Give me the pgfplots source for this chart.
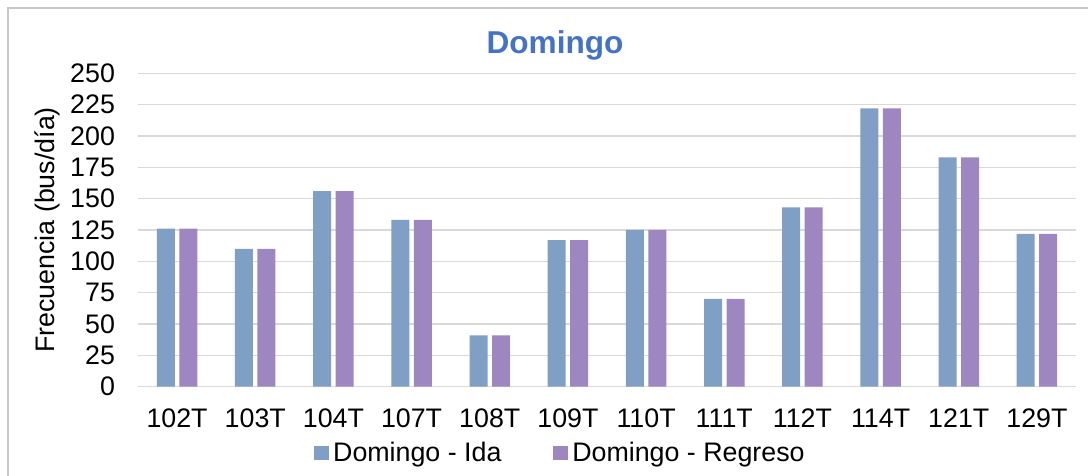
\documentclass[border=0pt]{standalone}
\usepackage{pgfplots}
\pgfplotsset{compat=1.18}
\usepackage{fontspec}
\setmainfont{Liberation Sans}
\definecolor{ida}{HTML}{7F9FC4}
\definecolor{reg}{HTML}{9E86C1}
\definecolor{titleblue}{HTML}{4472C4}
\definecolor{gridc}{HTML}{D9D9D9}
\begin{document}
\begin{tikzpicture}[x=1pt,y=1pt]
\useasboundingbox (0,0) rectangle (544,238);
\draw[gridc!80!gray, line width=0.8pt] (4,-5) -- (4,234) -- (550,234);
\node[font=\fontsize{15.8}{18}\selectfont\bfseries, text=titleblue] at (277.5,215.5) {Domingo};
\begin{axis}[
  at={(69pt,44.65pt)}, anchor=south west,
  scale only axis, width=469pt, height=156.7pt,
  ymin=0, ymax=250, xmin=-0.5, xmax=11.5,
  ytick={0,25,...,250},
  xtick={0,...,11},
  xticklabels={102T,103T,104T,107T,108T,109T,110T,111T,112T,114T,121T,129T},
  ybar=2.25pt, bar width=9pt,
  axis line style={draw=none},
  major tick length=0pt,
  ymajorgrids, grid style={gridc, line width=0.8pt},
  tick label style={font=\fontsize{13.4}{15}\selectfont},
  /pgf/number format/assume math mode=true,
  yticklabel style={xshift=-8pt},
  xticklabel style={yshift=-7.5pt},
  ylabel={Frecuencia (bus/día)},
  ylabel style={font=\fontsize{13.4}{15}\selectfont, at={(axis description cs:-0.097,0.5)}, anchor=center},
  legend style={draw=none, at={(0.4515,-0.2115)}, anchor=center, font=\fontsize{13.4}{15}\selectfont,
    legend columns=2, /tikz/every even column/.append style={column sep=24pt}},
  legend image code/.code={\fill[#1] (0pt,-3.7pt) rectangle (7.4pt,3.7pt);},
]
\addplot[fill=ida, draw=none] coordinates {(0,126) (1,110) (2,156) (3,133) (4,41) (5,117) (6,125) (7,70) (8,143) (9,222) (10,183) (11,122)};
\addplot[fill=reg, draw=none] coordinates {(0,126) (1,110) (2,156) (3,133) (4,41) (5,117) (6,125) (7,70) (8,143) (9,222) (10,183) (11,122)};
\legend{Domingo - Ida, Domingo - Regreso}
\end{axis}
\end{tikzpicture}
\end{document}
